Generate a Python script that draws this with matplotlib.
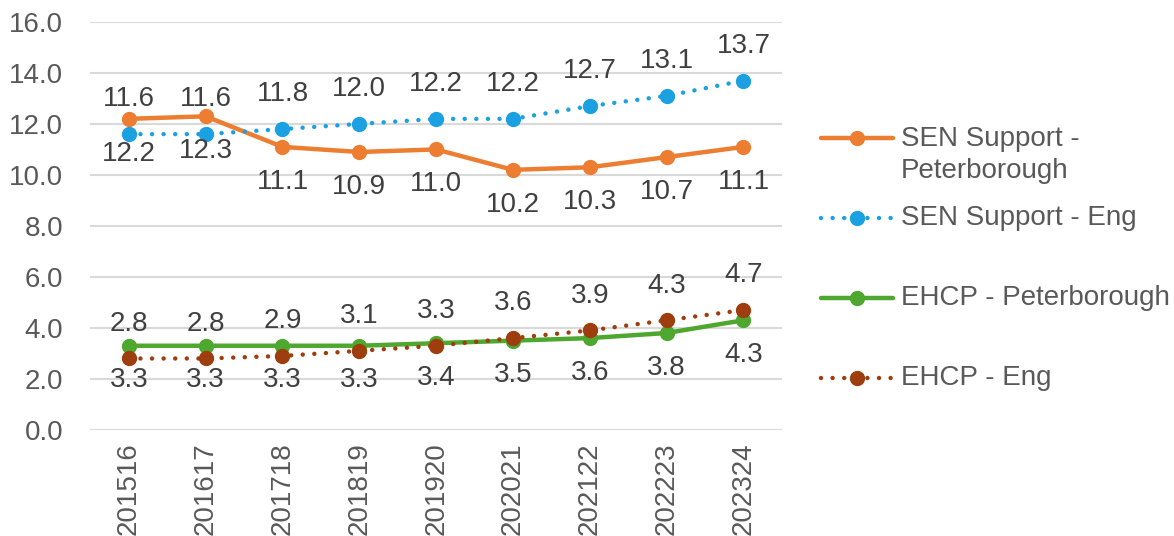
import matplotlib
matplotlib.use("Agg")
import matplotlib.pyplot as plt
from matplotlib.lines import Line2D

plt.rcParams['font.family'] = ['Liberation Sans', 'DejaVu Sans']

categories = ["201516", "201617", "201718", "201819", "201920",
              "202021", "202122", "202223", "202324"]
sen_pboro = [12.2, 12.3, 11.1, 10.9, 11.0, 10.2, 10.3, 10.7, 11.1]
sen_eng = [11.6, 11.6, 11.8, 12.0, 12.2, 12.2, 12.7, 13.1, 13.7]
ehcp_pboro = [3.3, 3.3, 3.3, 3.3, 3.4, 3.5, 3.6, 3.8, 4.3]
ehcp_eng = [2.8, 2.8, 2.9, 3.1, 3.3, 3.6, 3.9, 4.3, 4.7]
series_names = ["SEN Support -\nPeterborough", "SEN Support - Eng",
                "EHCP - Peterborough", "EHCP - Eng"]
yticks = [0, 2, 4, 6, 8, 10, 12, 14, 16]

c_orange = "#ED7D31"
c_blue = "#1BA1E2"
c_green = "#4EA72E"
c_brown = "#9E3D0E"
txt = "#404040"
tick_c = "#595959"
FS = 20

fig = plt.figure(figsize=(11.74, 5.36), dpi=100)
ax = fig.add_axes([0.077, 0.198, 0.589, 0.761])

x = list(range(len(categories)))
styles = [
    dict(color=c_orange, ls='-', label_pos=-1),
    dict(color=c_blue, ls=(0, (0.01, 2.6)), label_pos=1),
    dict(color=c_green, ls='-', label_pos=-1),
    dict(color=c_brown, ls=(0, (0.01, 2.6)), label_pos=1),
]
data = [sen_pboro, sen_eng, ehcp_pboro, ehcp_eng]

for vals, st in zip(data, styles):
    ax.plot(x, vals, color=st['color'], linestyle=st['ls'], linewidth=3.2,
            dash_capstyle='round', solid_capstyle='round',
            marker='o', markersize=10, markerfacecolor=st['color'],
            markeredgecolor=st['color'], zorder=3)
    for xi, v in zip(x, vals):
        ax.annotate(f"{v:.1f}", (xi, v), xytext=(0, 25 * st['label_pos']),
                    textcoords='offset points', ha='center', va='center',
                    fontsize=FS, color=txt, zorder=4)

ax.set_xlim(-0.5, len(categories) - 0.5)
ax.set_ylim(0, 16)
ax.set_yticks(yticks)
ax.set_yticklabels([f"{t:.1f}" for t in yticks])
ax.set_xticks(x)
ax.set_xticklabels(categories, rotation=90)
ax.tick_params(axis='both', length=0, labelsize=FS, colors=tick_c)
ax.tick_params(axis='y', pad=19.5)
ax.tick_params(axis='x', pad=9)
ax.grid(axis='y', color="#D9D9D9", linewidth=1.5)
ax.set_axisbelow(True)
for s in ax.spines.values():
    s.set_visible(False)

# manual legend
W, H = 1174, 536
leg_y = [138, 218, 298, 378]
for name, st, yp in zip(series_names, styles, leg_y):
    yf = 1 - yp / H
    fig.add_artist(Line2D([821 / W, 893 / W], [yf, yf], transform=fig.transFigure,
                          color=st['color'], linestyle=st['ls'], linewidth=3.2,
                          dash_capstyle='round', solid_capstyle='round'))
    fig.add_artist(Line2D([857 / W], [yf], transform=fig.transFigure,
                          color=st['color'], marker='o', markersize=10,
                          linestyle='none'))
    if '\n' in name:
        fig.text(901 / W, yf + 12 / H, name, ha='left', va='top',
                 fontsize=FS, color=tick_c, linespacing=1.3)
    else:
        fig.text(901 / W, yf, name, ha='left', va='center',
                 fontsize=FS, color=tick_c)

fig.savefig("out.png", dpi=100)
